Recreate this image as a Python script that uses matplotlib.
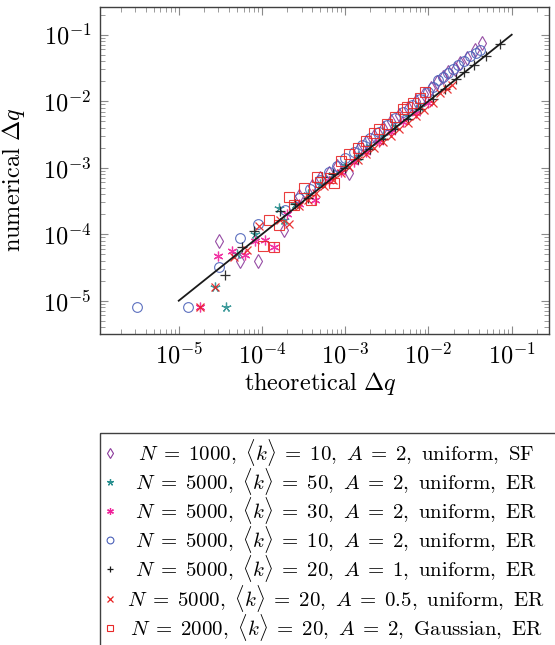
import numpy as np
import matplotlib
matplotlib.use("Agg")
import matplotlib.pyplot as plt
from matplotlib.patches import Rectangle
from matplotlib.ticker import LogLocator, FixedLocator, FuncFormatter, NullFormatter

plt.rcParams['mathtext.fontset'] = 'cm'
plt.rcParams['font.family'] = ['DejaVu Serif']

# ---- data (log10 of theoretical / numerical delta q) ----
sf1000_x = [-4.52, -4.26, -4.05, -3.73, -3.55, -3.40, -3.30, -3.20, -3.10, -2.95, -2.85, -2.75, -2.65, -2.55,
            -2.45, -2.35, -2.25, -2.15, -2.05, -1.97, -1.90, -1.82, -1.76, -1.68, -1.62, -1.54, -1.44, -1.36]
sf1000_y = [-4.10, -4.40, -4.40, -3.93, -3.42, -3.28, -3.15, -3.08, -2.98, -3.08, -2.74, -2.62, -2.52, -2.40,
            -2.30, -2.20, -2.10, -1.99, -1.89, -1.80, -1.71, -1.63, -1.56, -1.51, -1.43, -1.35, -1.23, -1.12]

k50_x = [-4.43, -4.57, -4.30, -4.08, -3.80, -3.73, -3.60, -3.45, -3.30, -3.15, -3.00, -2.85, -2.70, -2.55,
         -2.40, -2.25, -2.10]
k50_y = [-5.10, -4.80, -4.30, -3.99, -3.61, -3.79, -3.55, -3.40, -3.25, -3.10, -2.96, -2.82, -2.67, -2.52,
         -2.38, -2.23, -2.08]

k30_x = [-4.74, -4.53, -4.36, -4.21, -4.08, -3.96, -3.86, -3.70, -3.55, -3.36, -3.20, -3.05, -2.90, -2.75,
         -2.60, -2.45, -2.30, -2.15, -2.00]
k30_y = [-5.10, -4.33, -4.25, -4.31, -4.10, -4.08, -4.19, -3.70, -3.55, -3.49, -3.20, -3.06, -2.91, -2.77,
         -2.62, -2.47, -2.32, -2.17, -2.02]

k10_x = [-5.50, -4.885, -4.52, -4.26, -4.05, -3.72, -3.55, -3.42, -3.30, -3.20, -3.10, -3.00, -2.90, -2.80,
         -2.70, -2.60, -2.50, -2.40, -2.30, -2.20, -2.10, -2.00, -1.94, -1.88, -1.82, -1.76, -1.70, -1.64,
         -1.57, -1.50, -1.43, -1.38]
k10_y = [-5.10, -5.10, -4.50, -4.05, -3.84, -3.63, -3.45, -3.32, -3.18, -3.07, -2.97, -2.86, -2.76, -2.66,
         -2.56, -2.46, -2.36, -2.26, -2.16, -2.06, -1.96, -1.86, -1.78, -1.68, -1.63, -1.58, -1.52, -1.46,
         -1.39, -1.32, -1.27, -1.23]

a1_x = [-4.45, -4.24, -4.09, -3.78, -3.60, -3.45, -3.28, -3.15, -3.00, -2.85, -2.70, -2.55, -2.40, -2.25,
        -2.10, -1.95, -1.80, -1.67, -1.57, -1.45, -1.31, -1.14]
a1_y = [-4.62, -4.19, -3.95, -3.65, -3.55, -3.45, -3.14, -3.10, -3.00, -2.87, -2.72, -2.57, -2.42, -2.27,
        -2.12, -1.97, -1.82, -1.67, -1.56, -1.46, -1.32, -1.14]

a05_x = [-4.74, -4.57, -4.34, -4.18, -4.03, -3.78, -3.68, -3.55, -3.45, -3.35, -3.25, -3.15, -3.05, -2.95,
         -2.85, -2.75, -2.65, -2.55, -2.45, -2.35, -2.25, -2.15, -2.05, -1.95, -1.86, -1.78, -1.72]
a05_y = [-5.10, -4.80, -4.35, -4.24, -3.88, -3.79, -3.85, -3.58, -3.48, -3.38, -3.28, -3.18, -3.08, -2.99,
         -2.89, -2.79, -2.70, -2.61, -2.52, -2.42, -2.33, -2.23, -2.13, -2.02, -1.88, -1.81, -1.76]

gauss_x = [-3.99, -3.86, -3.92, -3.80, -3.68, -3.62, -3.50, -3.41, -3.34, -3.30, -3.18, -3.14, -3.05, -2.95,
           -2.85, -2.75, -2.65, -2.60, -2.50, -2.40, -2.30, -2.26, -2.18, -2.10, -2.04]
gauss_y = [-4.18, -4.19, -3.78, -3.86, -3.44, -3.56, -3.31, -3.49, -3.14, -3.21, -3.16, -3.23, -2.90, -2.80,
           -2.70, -2.60, -2.48, -2.42, -2.34, -2.24, -2.12, -2.08, -2.02, -1.95, -1.86]

fit_x = [1e-5, 1e-1]
fit_y = [1e-5, 1e-1]

labels = [r'$N\;=\;1000,\ \langle k\rangle\;=\;10,\ A\;=\;2,\ \mathrm{uniform,\ SF}$',
          r'$N\;=\;5000,\ \langle k\rangle\;=\;50,\ A\;=\;2,\ \mathrm{uniform,\ ER}$',
          r'$N\;=\;5000,\ \langle k\rangle\;=\;30,\ A\;=\;2,\ \mathrm{uniform,\ ER}$',
          r'$N\;=\;5000,\ \langle k\rangle\;=\;10,\ A\;=\;2,\ \mathrm{uniform,\ ER}$',
          r'$N\;=\;5000,\ \langle k\rangle\;=\;20,\ A\;=\;1,\ \mathrm{uniform,\ ER}$',
          r'$N\;=\;5000,\ \langle k\rangle\;=\;20,\ A\;=\;0.5,\ \mathrm{uniform,\ ER}$',
          r'$N\;=\;2000,\ \langle k\rangle\;=\;20,\ A\;=\;2,\ \mathrm{Gaussian,\ ER}$']

series_x = [sf1000_x, k50_x, k30_x, k10_x, a1_x, a05_x, gauss_x]
series_y = [sf1000_y, k50_y, k30_y, k10_y, a1_y, a05_y, gauss_y]

styles = [dict(marker='d', color='#8B3A9B', ms=7.5, mew=0.8),
          dict(marker=(5, 2, 0), color='#2A9090', ms=7, mew=0.9),
          dict(marker=(6, 2, 0), color='#F0209A', ms=7, mew=0.9),
          dict(marker='o', color='#4A60B8', ms=7, mew=0.8),
          dict(marker='+', color='#1a1a1a', ms=7, mew=0.9),
          dict(marker='x', color='#E82020', ms=5.5, mew=0.9),
          dict(marker='s', color='#E82828', ms=7, mew=0.8)]

W, H = 555, 645
fig = plt.figure(figsize=(W / 100, H / 100), dpi=100)
ax = fig.add_axes([100 / W, 1 - 334.3 / H, 449 / W, 327 / H])
ax.set_xscale('log')
ax.set_yscale('log')

for xs, ys, st in zip(series_x, series_y, styles):
    ax.plot(10.0 ** np.array(xs), 10.0 ** np.array(ys), linestyle='none',
            marker=st['marker'], ms=st['ms'], mew=st['mew'],
            mec=st['color'], mfc='none', alpha=0.9)

ax.plot(fit_x, fit_y, color='#1a1a1a', lw=1.3)

ax.set_xlim(10 ** -5.946, 10 ** -0.552)
ax.set_ylim(10 ** -5.505, 10 ** -0.588)

dec_fmt = FuncFormatter(lambda v, p: r'$10^{%d}$' % int(round(np.log10(v))))
ax.xaxis.set_major_locator(FixedLocator([1e-5, 1e-4, 1e-3, 1e-2, 1e-1]))
ax.yaxis.set_major_locator(FixedLocator([1e-5, 1e-4, 1e-3, 1e-2, 1e-1]))
ax.xaxis.set_major_formatter(dec_fmt)
ax.yaxis.set_major_formatter(dec_fmt)
ax.xaxis.set_minor_locator(LogLocator(base=10, subs=np.arange(2, 10), numticks=20))
ax.yaxis.set_minor_locator(LogLocator(base=10, subs=np.arange(2, 10), numticks=20))
ax.xaxis.set_minor_formatter(NullFormatter())
ax.yaxis.set_minor_formatter(NullFormatter())
ax.tick_params(which='both', direction='in', top=True, right=True, color='#8a8a8a', labelsize=17.5)
ax.tick_params(which='major', length=6, width=0.8, pad=6)
ax.tick_params(which='minor', length=3.5, width=0.6)
for s in ax.spines.values():
    s.set_color('#404040')
    s.set_linewidth(1.0)

ax.set_xlabel(r'$\mathrm{theoretical}\ \Delta q$', fontsize=17.5)
ax.set_ylabel(r'$\mathrm{numerical}\ \Delta q$', fontsize=17.5)
ax.xaxis.set_label_coords((320 - 100) / 449, -(370 - 334.3) / 327)
ax.yaxis.set_label_coords(-(100 - 27) / 449, (334.3 - 180) / 327)

# ---- legend drawn in a figure-pixel overlay ----
lax = fig.add_axes([0, 0, 1, 1])
lax.set_xlim(0, W)
lax.set_ylim(H, 0)
lax.axis('off')
lax.add_patch(Rectangle((100, 433), 470, 230, fill=False, ec='#404040', lw=1.0, clip_on=False))
base0, row_dy = 460.0, 29.2
for i, (lab, st) in enumerate(zip(labels, styles)):
    yb = base0 + i * row_dy
    lax.plot([110], [yb - 7.5], linestyle='none', marker=st['marker'], ms=st['ms'] * 0.7, mew=st['mew'],
             mec=st['color'], mfc='none')
    lax.text(336, yb, lab, ha='center', va='baseline', fontsize=15)

fig.savefig('out.png', dpi=100)
